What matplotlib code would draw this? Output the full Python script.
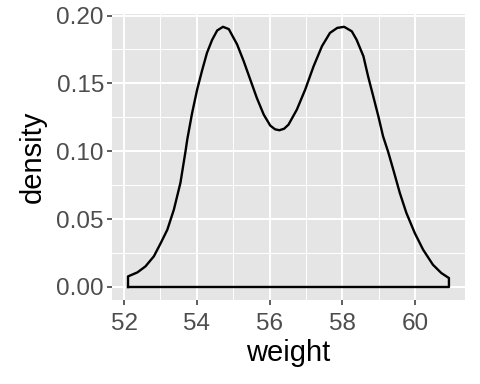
import numpy as np
import matplotlib
matplotlib.use("Agg")
import matplotlib.pyplot as plt

# density curve (weight, density)
weight = [52.11, 52.37, 52.59, 52.82, 53.01, 53.19, 53.37, 53.55, 53.69, 53.74,
          53.87, 54.01, 54.15, 54.28, 54.42, 54.56, 54.72, 54.88, 55.11, 55.29,
          55.47, 55.65, 55.84, 56.02, 56.15, 56.27, 56.40, 56.52, 56.75, 56.98,
          57.21, 57.44, 57.66, 57.86, 58.05, 58.26, 58.39, 58.58, 58.71, 58.85,
          58.99, 59.12, 59.26, 59.40, 59.58, 59.76, 59.99, 60.22, 60.49, 60.72,
          60.93]
density = [0.0078, 0.0108, 0.0152, 0.0226, 0.0324, 0.0422, 0.0570, 0.0767, 0.1000, 0.1090,
           0.1280, 0.1455, 0.1600, 0.1725, 0.1820, 0.1890, 0.1917, 0.1900, 0.1786, 0.1663,
           0.1528, 0.1393, 0.1270, 0.1189, 0.1162, 0.1155, 0.1166, 0.1196, 0.1307, 0.1455,
           0.1626, 0.1774, 0.1872, 0.1909, 0.1917, 0.1884, 0.1823, 0.1700, 0.1550, 0.1405,
           0.1258, 0.1110, 0.0995, 0.0865, 0.0693, 0.0546, 0.0398, 0.0275, 0.0164, 0.0103,
           0.0066]

x_ticks = [52, 54, 56, 58, 60]
x_minor = [53, 55, 57, 59]
y_ticks = [0.00, 0.05, 0.10, 0.15, 0.20]
y_minor = [0.025, 0.075, 0.125, 0.175]

plt.rcParams["font.family"] = ["Liberation Sans", "DejaVu Sans"]

fig = plt.figure(figsize=(4.8, 3.84), dpi=100)
ax = fig.add_axes([0.2333, 0.21875, 0.7354, 0.7453])
ax.set_facecolor("#E5E5E5")
for s in ax.spines.values():
    s.set_visible(False)

# outline polygon like geom_density
px = [weight[0]] + weight + [weight[-1], weight[0]]
py = [0] + density + [0, 0]
ax.plot(px, py, color="black", lw=1.7, solid_joinstyle="round", zorder=3)

xr = max(weight) - min(weight)
ax.set_xlim(min(weight) - 0.05 * xr, max(weight) + 0.05 * xr)
yr = max(density)
ax.set_ylim(-0.05 * yr, yr * 1.05)

ax.set_xticks(x_ticks)
ax.set_xticks(x_minor, minor=True)
ax.set_yticks(y_ticks)
ax.set_yticks(y_minor, minor=True)
ax.set_yticklabels(["%.2f" % v for v in y_ticks])
ax.grid(which="major", color="white", lw=1.4)
ax.grid(which="minor", color="white", lw=0.7)
ax.set_axisbelow(True)
ax.tick_params(which="major", length=3.6, width=1.1, color="#333333",
               labelcolor="#4D4D4D", labelsize=17.5, pad=2.2)
ax.tick_params(axis="x", pad=5.5)
ax.tick_params(which="minor", length=0)

ax.set_xlabel("weight", fontsize=21, labelpad=3)
ax.set_ylabel("density", fontsize=21, labelpad=7)

fig.savefig("out.png", dpi=100)
